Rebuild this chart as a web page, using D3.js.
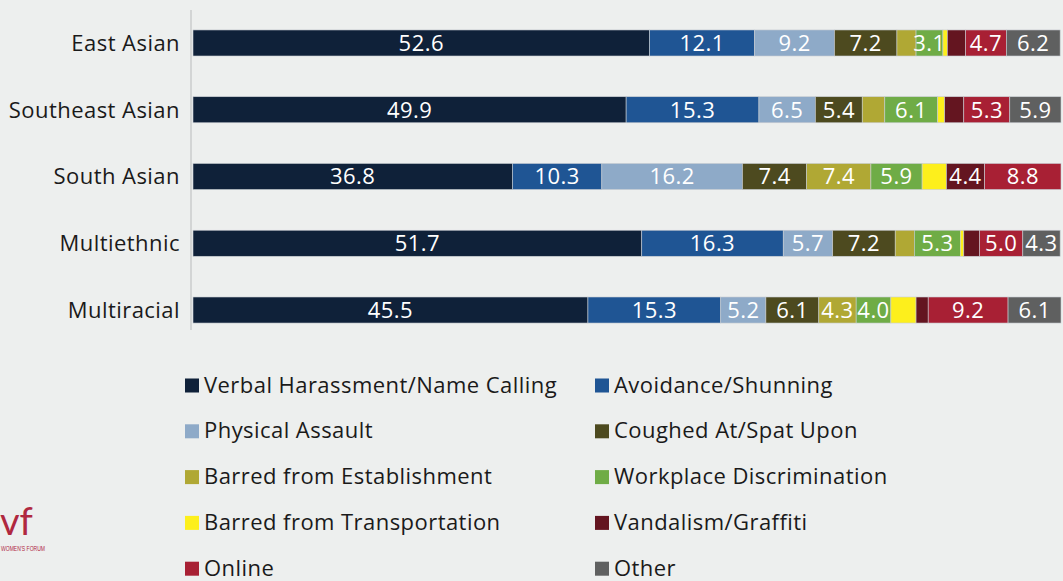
<!DOCTYPE html>
<html><head><meta charset="utf-8">
<script src="https://cdn.jsdelivr.net/npm/d3@7"></script>
<style>
html,body{margin:0;padding:0;background:#edefee;}
svg{display:block;font-family:"Open Sans",Lato,sans-serif;}
</style></head>
<body><svg id="c" width="1063" height="581"></svg>
<script>
const categories = ["East Asian","Southeast Asian","South Asian","Multiethnic","Multiracial"];
const seriesNames = ["Verbal Harassment/Name Calling","Avoidance/Shunning","Physical Assault","Coughed At/Spat Upon","Barred from Establishment","Workplace Discrimination","Barred from Transportation","Vandalism/Graffiti","Online","Other"];
const colors = ["#0f2139","#1f5594","#8eaac8","#4d4a1f","#b0a834","#6fac46","#fdef1c","#641520","#a82034","#5f6060"];
const verbal      = [52.6, 49.9, 36.8, 51.7, 45.5];
const avoidance   = [12.1, 15.3, 10.3, 16.3, 15.3];
const physical    = [9.2, 6.5, 16.2, 5.7, 5.2];
const coughed     = [7.2, 5.4, 7.4, 7.2, 6.1];
const barredEst   = [2.2, 2.6, 7.4, 2.2, 4.3];
const workplace   = [3.1, 6.1, 5.9, 5.3, 4.0];
const barredTrans = [0.5, 0.8, 2.8, 0.4, 2.9];
const vandalism   = [2.1, 2.2, 4.4, 1.8, 1.4];
const online      = [4.7, 5.3, 8.8, 5.0, 9.2];
const other       = [6.2, 5.9, 0.0, 4.3, 6.1];
const seriesValues = [verbal, avoidance, physical, coughed, barredEst, workplace, barredTrans, vandalism, online, other];

const rows = categories.map((c,i)=>{const o={cat:c}; seriesNames.forEach((s,j)=>o[s]=seriesValues[j][i]); return o;});
const stack = d3.stack().keys(seriesNames)(rows);

const svg = d3.select("#c");
const x = d3.scaleLinear().domain([0,100]).range([193,1061]);
const y = d3.scaleBand().domain(categories).range([9.6,343.4]).paddingInner(0.61).paddingOuter(0.305);
const color = d3.scaleOrdinal().domain(seriesNames).range(colors);
const FS = 22, LS = "0.45px";

// axis line
svg.append("line").attr("x1",191).attr("x2",191).attr("y1",10).attr("y2",330)
  .attr("stroke","#d3d5d5").attr("stroke-width",2);

const g = svg.append("g");
stack.forEach(layer=>{
  const lg = g.append("g");
  lg.selectAll("rect").data(layer).join("rect")
    .attr("x",d=>x(d[0])).attr("width",d=>Math.max(0,x(d[1])-x(d[0])))
    .attr("y",d=>y(d.data.cat)).attr("height",y.bandwidth())
    .attr("fill",color(layer.key))
    .attr("stroke","#c9ced3").attr("stroke-width",0.6);
  lg.selectAll("text").data(layer.filter(d=>d[1]-d[0]>=3)).join("text")
    .attr("x",d=>(x(d[0])+x(d[1]))/2).attr("y",d=>y(d.data.cat)+y.bandwidth()/2)
    .attr("dy","0.36em").attr("text-anchor","middle")
    .attr("fill","#ffffff").attr("font-size",FS).attr("letter-spacing",LS)
    .text(d=>(d[1]-d[0]).toFixed(1));
});

// category labels
svg.append("g").selectAll("text").data(categories).join("text")
  .attr("x",180).attr("y",d=>y(d)+y.bandwidth()/2).attr("dy","0.36em")
  .attr("text-anchor","end").attr("font-size",FS).attr("letter-spacing",LS)
  .attr("fill","#1a1a1a").text(d=>d);

// legend
const leg = svg.append("g");
seriesNames.forEach((s,i)=>{
  const col = i%2, row = Math.floor(i/2);
  const lx = col===0?185:595, base = 392.5+row*45.8;
  leg.append("rect").attr("x",lx).attr("y",base-14).attr("width",14).attr("height",14).attr("fill",colors[i]);
  leg.append("text").attr("x",lx+19).attr("y",base).attr("font-size",FS).attr("letter-spacing",LS)
    .attr("fill","#1a1a1a").text(s);
});

// logo
svg.append("text").attr("x",0).attr("y",535).attr("font-size",38).attr("fill","#b0283f")
  .attr("font-family","Lato").attr("font-weight",400).text("vf");
svg.append("text").attr("x",1).attr("y",551).attr("font-size",8).attr("fill","#b0283f")
  .attr("font-family","'Liberation Sans Narrow',sans-serif")
  .attr("textLength",44).attr("lengthAdjust","spacingAndGlyphs").text("WOMEN'S FORUM");
</script></body></html>
